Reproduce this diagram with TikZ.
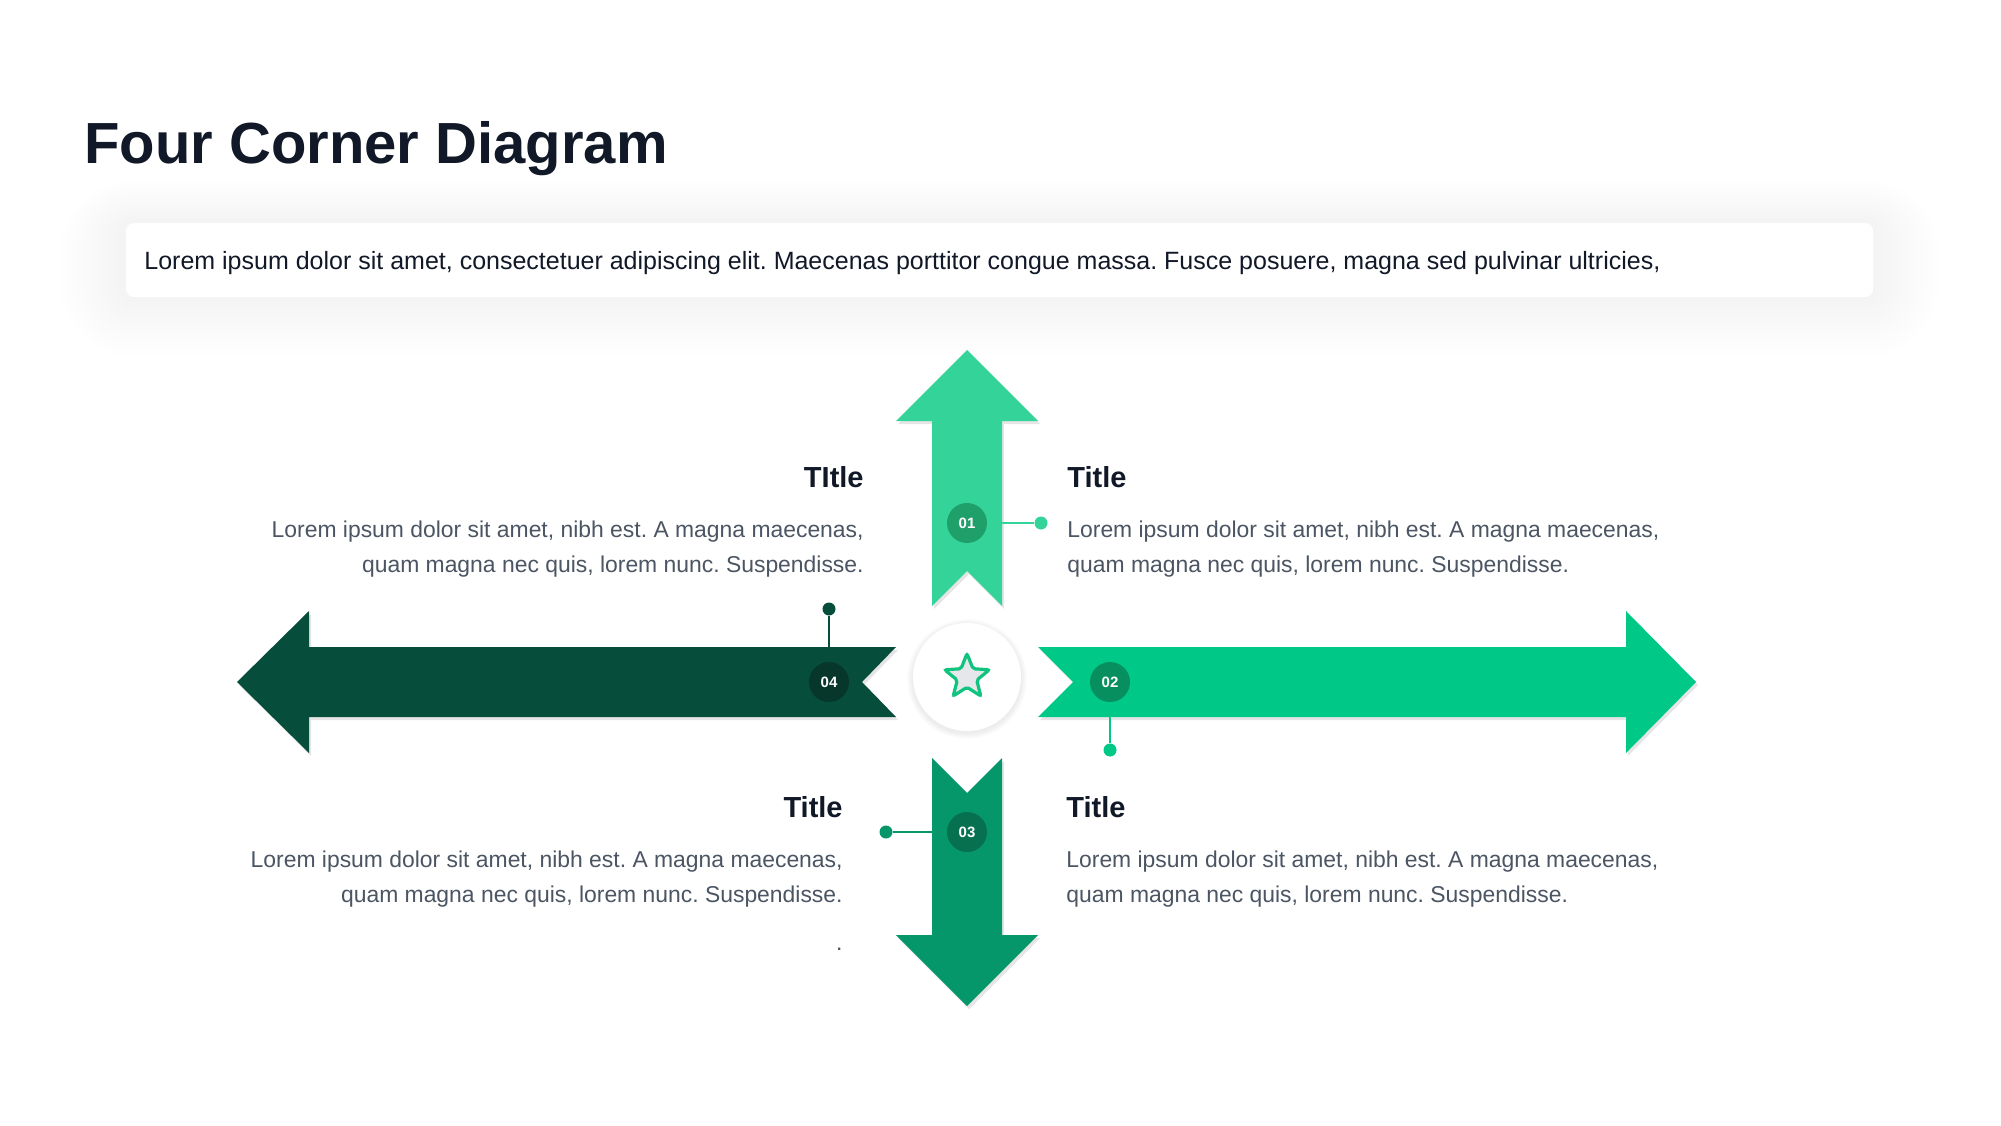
\documentclass[tikz,border=0pt]{standalone}
\usepackage{fontspec}
\setmainfont{Liberation Sans}
\usepackage{xcolor}
\definecolor{ink}{HTML}{111827}
\definecolor{bodygray}{HTML}{4B5563}
\definecolor{mintup}{HTML}{34D399}
\definecolor{mintright}{HTML}{00C987}
\definecolor{greendown}{HTML}{059669}
\definecolor{pineleft}{HTML}{064E3B}
\definecolor{badgeup}{HTML}{1F9F69}
\definecolor{badgeright}{HTML}{078F5F}
\definecolor{badgedown}{HTML}{06704F}
\definecolor{badgeleft}{HTML}{07362A}
\definecolor{starline}{HTML}{10C47F}
\definecolor{starfill}{HTML}{E5E7EB}
\usetikzlibrary{shapes.geometric}
\frenchspacing

\begin{document}
\begin{tikzpicture}[
  x=0.5pt, y=-0.5pt,
  arrowbody/.style={preaction={fill=black, fill opacity=.10,
                    transform canvas={shift={(1pt,-1.5pt)}}}},
  badge/.style={circle, fill=#1, text=white, inner sep=0pt, minimum size=20pt,
                font=\fontsize{7.5pt}{9pt}\selectfont\bfseries},
  tipdot/.style={circle, fill=#1, inner sep=0pt, minimum size=6.5pt},
  link/.style={#1, line width=1pt},
  blocktitle/.style={text=ink, inner sep=0pt, font=\fontsize{14.5pt}{17pt}\selectfont\bfseries},
  blocktext/.style={text=bodygray, inner sep=0pt, font=\fontsize{11.45pt}{17.5pt}\selectfont}
]
  \useasboundingbox (0,0) rectangle (2001,1125);
  \fill[white] (0,0) rectangle (2001,1125);

  % heading and intro strip
  \node[anchor=base west, inner sep=0pt, text=ink, font=\fontsize{29pt}{34pt}\selectfont\bfseries]
       (heading) at (84,163) {Four Corner Diagram};
  \foreach \g in {6,12,...,66}
    \fill[black, opacity=.0045, rounded corners=4pt+\g*0.5pt]
         (126-\g,223-0.65*\g) rectangle (1873+\g,297+0.9*\g);
  \fill[white, rounded corners=4pt] (126,223) rectangle (1873,297);
  \node[anchor=base west, inner sep=0pt, text=ink, font=\fontsize{12.5pt}{15pt}\selectfont]
       (intro) at (144,269) {Lorem ipsum dolor sit amet, consectetuer adipiscing elit. Maecenas porttitor congue massa. Fusce posuere, magna sed pulvinar ultricies,};

  % the four arrows
  \fill[mintup, arrowbody] (967,350) -- (1038,421) -- (1002,421) -- (1002,606) -- (967,571)
       -- (932,606) -- (932,421) -- (896,421) -- cycle;
  \fill[mintright, arrowbody] (1696,682) -- (1626,753) -- (1626,717) -- (1038,717) -- (1073,682)
       -- (1038,647) -- (1626,647) -- (1626,611) -- cycle;
  \fill[greendown, arrowbody] (967,1006) -- (896,935) -- (932,935) -- (932,758) -- (967,793)
       -- (1002,758) -- (1002,935) -- (1038,935) -- cycle;
  \fill[pineleft, arrowbody] (237,682) -- (309,611) -- (309,647) -- (896,647) -- (862,682)
       -- (896,717) -- (309,717) -- (309,753) -- cycle;

  % badges and their pins
  \node[tipdot=mintup]     (d1) at (1041,523) {};
  \node[tipdot=mintright]  (d2) at (1110,750) {};
  \node[tipdot=greendown]  (d3) at (886,832)  {};
  \node[tipdot=pineleft]   (d4) at (829,609)  {};
  \node[badge=badgeup]     (b1) at (967,523)  {01};
  \node[badge=badgeright]  (b2) at (1110,682) {02};
  \node[badge=badgedown]   (b3) at (967,832)  {03};
  \node[badge=badgeleft]   (b4) at (829,682)  {04};
  \draw[link=mintup]    (b1.east)  -- (d1);
  \draw[link=mintright] (b2.south) -- (d2);
  \draw[link=greendown] (b3.west)  -- (d3);
  \draw[link=pineleft]  (b4.north) -- (d4);

  % hub with star
  \foreach \g in {1,...,6}
    \fill[black, opacity=.012] (967,679) circle[radius=27pt+\g*0.5pt];
  \node[circle, fill=white, inner sep=0pt, minimum size=54pt] (hub) at (967,677) {};
  \node[star, star points=5, star point ratio=2.3, minimum size=23.5pt, inner sep=0pt,
        draw=starline, line width=1.6pt, fill=starfill, rounded corners=1pt]
       (mark) at (hub) {};

  % text blocks
  \node[blocktitle, anchor=base east] (t4) at (864,487) {TItle};
  \node[blocktext, anchor=base east, align=right] (p4) at (864,572)
       {Lorem ipsum dolor sit amet, nibh est. A magna maecenas,\\quam magna nec quis, lorem nunc. Suspendisse.};
  \node[blocktitle, anchor=base west] (t1) at (1067,487) {Title};
  \node[blocktext, anchor=base west, align=left] (p1) at (1067,572)
       {Lorem ipsum dolor sit amet, nibh est. A magna maecenas,\\quam magna nec quis, lorem nunc. Suspendisse.};
  \node[blocktitle, anchor=base east] (t3) at (843,817) {Title};
  \node[blocktext, anchor=base east, align=right] (p3) at (843,950)
       {Lorem ipsum dolor sit amet, nibh est. A magna maecenas,\\quam magna nec quis, lorem nunc. Suspendisse.\\[6.5pt].};
  \node[blocktitle, anchor=base west] (t2) at (1066,817) {Title};
  \node[blocktext, anchor=base west, align=left] (p2) at (1066,902)
       {Lorem ipsum dolor sit amet, nibh est. A magna maecenas,\\quam magna nec quis, lorem nunc. Suspendisse.};
\end{tikzpicture}
\end{document}
